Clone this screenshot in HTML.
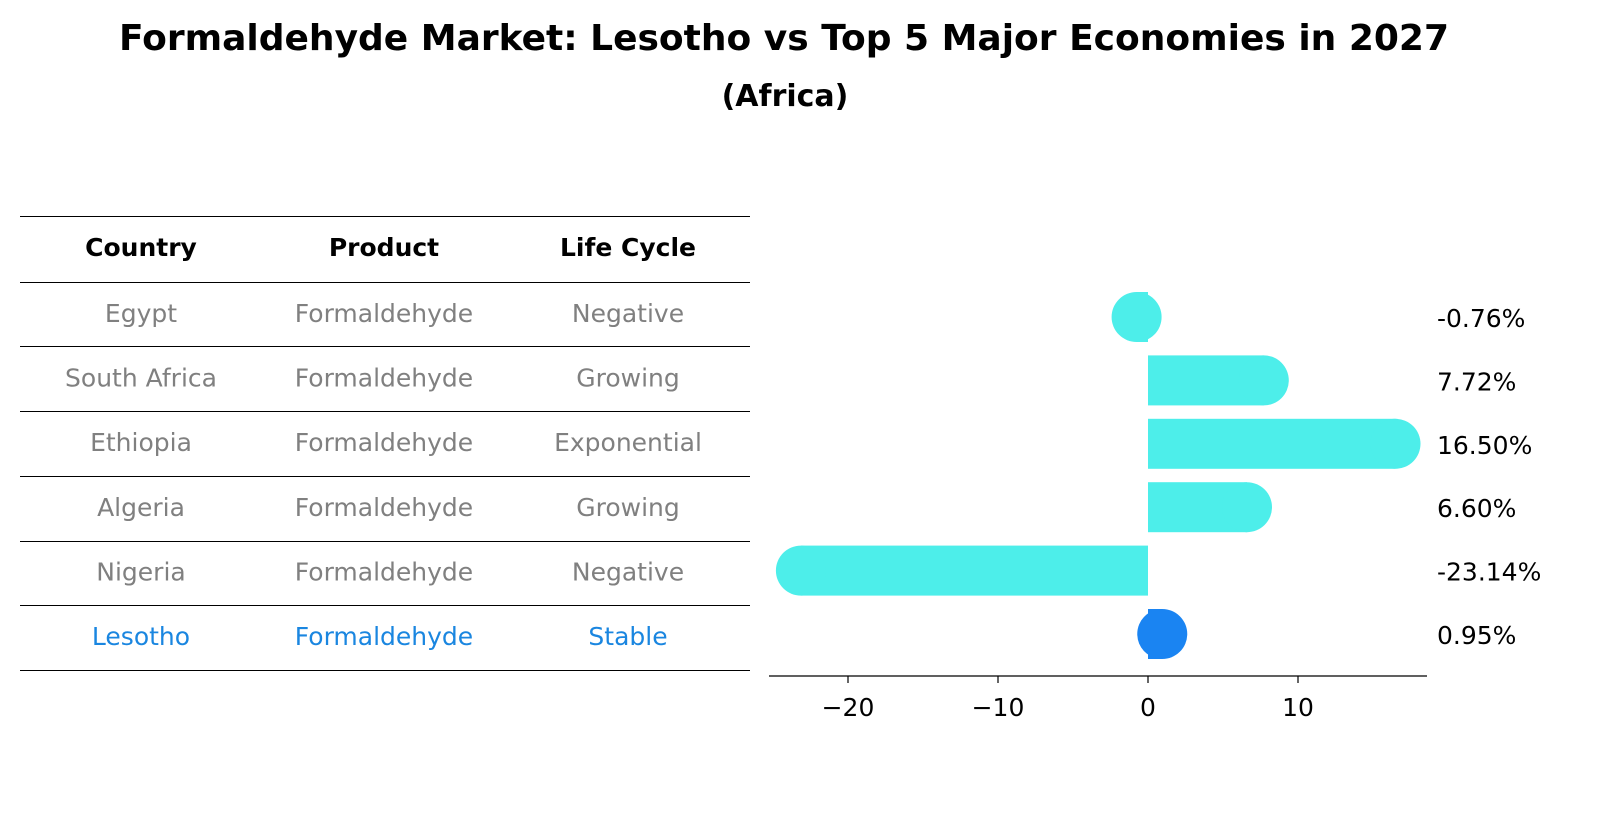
<!DOCTYPE html>
<html><head><meta charset="utf-8"><style>
body{margin:0;background:#fff;}
svg{display:block;font-family:"DejaVu Sans","Liberation Sans",sans-serif;}
</style></head><body>
<svg id="c" width="1614" height="823" viewBox="0 0 1614 823">
<text x="784" y="50" text-anchor="middle" font-size="36" font-weight="bold">Formaldehyde Market: Lesotho vs Top 5 Major Economies in 2027</text>
<text x="785" y="106" text-anchor="middle" font-size="30" font-weight="bold">(Africa)</text>
<g id="tbl"></g>
<g id="plot"></g>
</svg>
<script>
const countries=["Egypt","South Africa","Ethiopia","Algeria","Nigeria","Lesotho"];
const products=["Formaldehyde","Formaldehyde","Formaldehyde","Formaldehyde","Formaldehyde","Formaldehyde"];
const lifecycles=["Negative","Growing","Exponential","Growing","Negative","Stable"];
const values=[-0.76,7.72,16.50,6.60,-23.14,0.95];
const xTicks=[-20,-10,0,10];
const NS="http://www.w3.org/2000/svg";
function mk(t,a,p){const e=document.createElementNS(NS,t);for(const k in a)e.setAttribute(k,a[k]);p.appendChild(e);return e;}
const tbl=document.getElementById('tbl');
const lineYs=[216.5,282.5,346.5,411.5,476.5,541.5,605.5,670.5];
lineYs.forEach((y,i)=>{const l=mk('line',{x1:20,x2:750,y1:y,y2:y,stroke:'#000','stroke-width':1},tbl);

});
const colX=[141,384,628];
["Country","Product","Life Cycle"].forEach((h,i)=>{const t=mk('text',{x:colX[i],y:256,'text-anchor':'middle','font-size':25,'font-weight':'bold'},tbl);t.textContent=h;

});
const rowY=i=>322+i*64.6;
countries.forEach((c,i)=>{const col=c==="Lesotho"?'#1a86e0':'#808080';
[c,products[i],lifecycles[i]].forEach((s,j)=>{const t=mk('text',{x:colX[j],y:rowY(i),'text-anchor':'middle','font-size':25,fill:col},tbl);t.textContent=s;

});});
const plot=document.getElementById('plot');
const xs=v=>1148+v*15;
const yc=i=>317+i*63.4;
values.forEach((v,i)=>{const col=countries[i]==="Lesotho"?'#1a84f2':'#4deeea';
const g=mk('g',{},plot);


const x0=Math.min(xs(0),xs(v)),w=Math.abs(xs(v)-xs(0));
mk('rect',{x:x0,y:yc(i)-25,width:w,height:50,fill:col},g);
mk('ellipse',{cx:xs(v),cy:yc(i),rx:25,ry:25,fill:col},g);
const t=mk('text',{x:1437,y:yc(i)+10,'font-size':25},plot);
t.textContent=v.toFixed(2)+'%';

});
const ax=mk('line',{x1:769,x2:1427,y1:676,y2:676,stroke:'#000','stroke-width':1.3},plot);


xTicks.forEach(v=>{mk('line',{x1:xs(v),x2:xs(v),y1:676,y2:683,stroke:'#000','stroke-width':1.2},plot);
const t=mk('text',{x:xs(v),y:716,'text-anchor':'middle','font-size':25},plot);
t.textContent=v<0?'\u2212'+Math.abs(v):String(v);

});
</script>
</body></html>
